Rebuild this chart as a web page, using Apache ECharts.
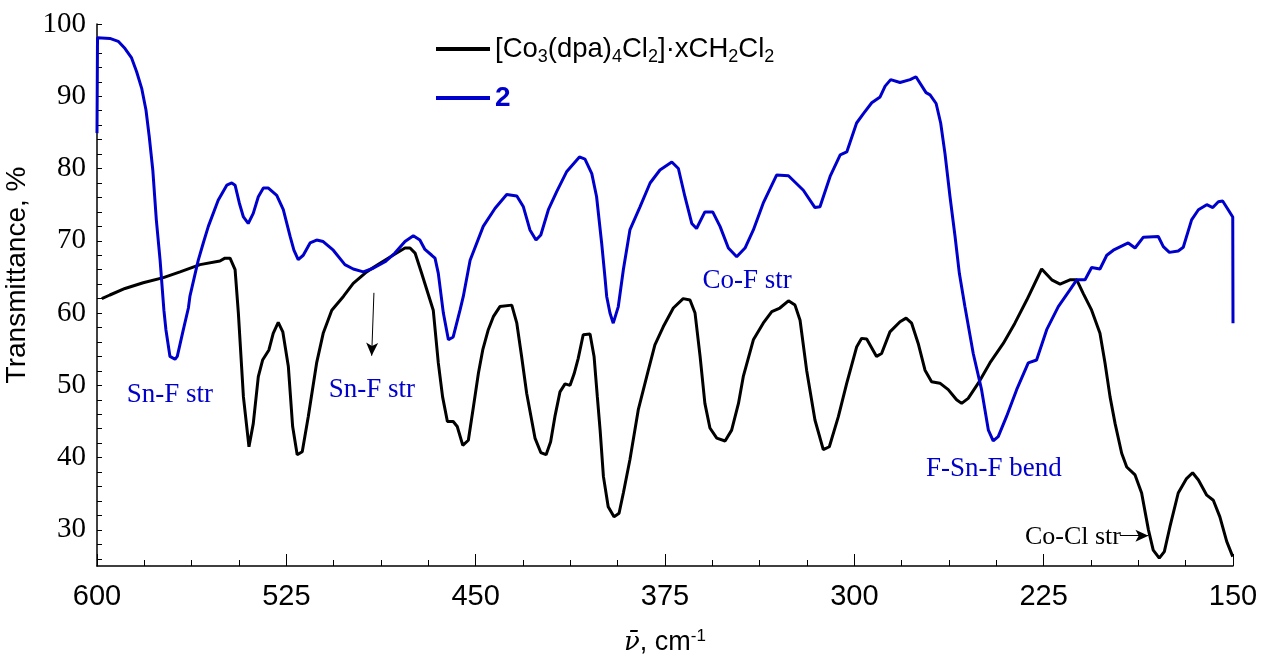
<!DOCTYPE html>
<html>
<head>
<meta charset="utf-8">
<script src="https://cdn.jsdelivr.net/npm/echarts@6/dist/echarts.min.js"></script>
<style>
html,body{margin:0;padding:0;background:#fff;}
#chart{width:1263px;height:661px;}
</style>
</head>
<body>
<div id="chart"></div>
<script>
// ---- data (wavenumber in cm-1, transmittance in %) ----
const blackNu = [598.1,594.9,588.9,581.7,573.7,567.1,559.2,551.3,549.3,547.3,545.3,544.0,542.0,539.8,538.1,536.1,534.4,531.9,530.2,528.2,526.4,524.2,522.5,520.7,518.7,516.3,513.0,510.4,507.0,502.4,498.5,493.2,487.9,481.3,478.0,476.0,474.0,471.4,466.8,464.8,463.1,461.2,458.9,457.3,455.1,452.9,450.9,448.9,447.2,445.0,443.0,440.4,435.7,433.7,431.8,429.8,426.5,424.2,422.1,420.3,418.6,416.6,414.6,412.6,411.0,409.4,407.4,404.7,403.1,401.8,400.7,399.4,397.5,395.2,393.2,391.5,388.9,385.6,381.6,379.0,375.7,371.7,367.8,365.1,363.1,361.1,359.2,357.2,354.5,351.2,348.6,345.9,344.0,340.0,336.1,332.7,329.5,326.1,323.5,321.5,318.9,315.6,312.3,309.9,306.3,303.0,299.1,297.1,295.1,291.2,289.2,285.9,281.9,279.5,277.3,274.7,272.0,269.4,266.1,262.8,259.5,257.5,254.9,250.9,246.3,241.0,236.4,231.7,225.8,221.8,218.5,214.6,211.9,209.3,206.0,202.7,200.7,198.7,196.7,194.1,192.1,188.8,186.2,183.5,181.6,179.2,177.2,175.0,171.7,168.4,166.0,163.7,160.4,157.8,155.2,152.5,150.1];
const blackT = [62.0,62.5,63.4,64.2,64.9,65.7,66.7,67.2,67.6,67.6,66.0,60.0,48.4,41.5,44.7,51.2,53.5,54.9,57.2,58.7,57.4,52.6,44.3,40.4,40.8,45.7,53.1,57.2,60.4,62.3,64.1,65.7,66.9,68.3,69.0,69.0,68.3,65.5,60.4,53.1,48.4,45.0,45.0,44.3,41.7,42.4,47.0,51.7,54.9,57.7,59.5,60.9,61.1,58.6,54.0,48.9,42.7,40.7,40.4,42.2,45.7,49.1,50.2,50.0,51.6,53.7,57.0,57.1,54.0,48.4,43.8,37.4,33.2,31.8,32.3,35.1,39.7,46.6,52.1,55.6,58.1,60.7,62.0,61.8,60.0,54.0,47.5,44.1,42.7,42.3,43.8,47.5,51.2,56.3,58.6,60.2,60.7,61.7,61.1,59.0,52.1,45.2,41.1,41.5,45.7,50.3,55.3,56.5,56.4,54.0,54.4,57.4,58.8,59.3,58.6,55.8,52.1,50.5,50.3,49.4,48.0,47.5,48.2,50.3,53.1,55.8,58.6,61.8,66.1,64.6,64.0,64.6,64.6,62.7,60.4,57.2,53.1,48.4,44.7,40.6,38.7,37.6,35.1,30.0,27.2,26.1,27.0,30.4,35.1,37.1,37.9,36.9,34.8,34.1,31.8,28.4,26.3];

const blueNu = [600.0,599.8,594.9,591.6,588.9,586.3,584.3,582.3,580.6,579.3,577.9,576.5,575.0,573.5,572.7,571.1,569.1,568.2,565.8,563.8,563.2,560.5,559.9,557.9,555.9,552.0,548.6,546.6,545.3,543.6,542.0,540.1,538.1,536.1,534.1,532.1,528.8,526.2,523.5,522.0,520.3,518.3,515.6,513.0,510.4,506.4,501.8,498.5,494.5,490.6,485.9,482.0,478.0,474.7,472.1,470.1,467.4,466.1,464.8,462.8,460.8,458.9,456.2,454.9,452.2,447.0,442.3,437.7,433.7,431.1,428.5,426.1,424.2,421.2,417.9,413.9,408.9,406.7,404.0,402.1,400.1,398.8,398.1,396.8,395.5,393.5,391.5,388.9,384.9,380.9,377.0,372.3,369.7,367.1,364.4,362.5,359.2,356.1,353.2,349.9,346.6,343.3,340.0,336.1,330.8,326.1,320.2,315.6,313.6,309.6,305.6,303.0,299.1,296.4,293.1,289.8,287.8,285.6,281.9,277.9,275.6,271.6,270.0,267.6,265.8,264.1,262.1,260.1,258.4,256.2,252.9,249.6,246.9,245.0,243.0,239.7,235.7,231.1,227.8,223.8,219.2,214.6,211.9,208.6,206.0,202.7,200.0,197.4,191.5,188.8,185.5,179.6,177.6,175.2,171.7,169.7,166.4,163.7,160.4,158.0,155.8,154.1,151.9,150.1,150.0];
const blueT = [84.9,98.1,98.0,97.6,96.6,95.3,93.4,91.1,88.1,84.4,79.8,72.9,67.3,60.4,57.7,54.0,53.6,54.0,57.7,60.7,62.3,66.4,67.3,69.7,72.0,75.6,77.7,78.0,77.7,75.2,73.3,72.4,73.8,76.1,77.3,77.3,76.3,74.3,70.6,68.7,67.4,68.0,69.7,70.1,69.9,68.7,66.7,66.1,65.7,66.2,67.1,68.3,69.9,70.7,70.1,68.8,68.0,67.6,65.5,60.0,56.3,56.7,60.4,62.3,67.3,72.0,74.5,76.4,76.2,74.7,71.5,70.1,70.8,74.3,76.8,79.6,81.6,81.3,79.3,76.1,69.7,65.0,62.3,60.0,58.6,60.9,66.0,71.5,74.7,78.0,79.8,80.9,80.0,76.1,72.4,71.7,74.0,74.0,72.0,69.0,67.8,69.0,71.5,75.2,79.1,79.0,77.0,74.6,74.7,78.9,81.9,82.3,86.3,87.6,89.1,89.9,91.4,92.3,91.9,92.3,92.7,90.5,90.2,89.0,86.3,82.1,76.1,70.6,65.5,60.9,54.4,49.4,43.8,42.3,42.9,45.7,49.4,53.1,53.5,57.7,60.9,63.2,64.6,64.6,66.3,66.1,68.0,68.7,69.7,69.0,70.5,70.6,69.2,68.4,68.6,69.1,72.9,74.3,75.0,74.6,75.4,75.5,74.3,73.3,58.6];

const seriesNames = ['[Co3(dpa)4Cl2]·xCH2Cl2', '2'];
const xTickValues = [150, 225, 300, 375, 450, 525, 600];
const yLabelValues = [30, 40, 50, 60, 70, 80, 90, 100];
const yTickValues = [26,28,30,32,34,36,38,40,42,44,46,48,50,52,54,56,58,60,62,64,66,68,70,72,74,76,78,80,82,84,86,88,90,92,94,96,98,100];

// annotations: [label, wavenumber, transmittance]
const blueNotes = [['Sn-F str', 571.1, 48.7], ['Sn-F str', 491.1, 49.4], ['Co-F str', 342.5, 64.4], ['F-Sn-F bend', 244.7, 38.4]];
const blackNotes = [['Co-Cl str', 213.4, 29.0]];
const arrows = [[[490.3, 62.8], [491.2, 54.1]], [[194.8, 29.2], [183.5, 29.2]]];

const SANS = '"Liberation Sans", Arial, sans-serif';
const SERIF = '"Liberation Serif", "Times New Roman", serif';
const BLUE = '#0000CC';

const zip = (a, b) => a.map((v, i) => [v, b[i]]);

const chart = echarts.init(document.getElementById('chart'), null, {renderer: 'canvas'});
chart.setOption({
  animation: false,
  backgroundColor: '#fff',
  grid: {left: 97, right: 30, top: 24, bottom: 95, containLabel: false, outerBoundsMode: 'none'},
  legend: {
    orient: 'vertical',
    left: 436,
    top: 35,
    padding: 0,
    itemWidth: 54,
    itemHeight: 4,
    itemGap: 18,
    itemTextGap: 5,
    icon: 'rect',
    data: seriesNames,
    formatter: function (name) {
      if (name === seriesNames[1]) return '{b|2}';
      return '{n|[Co}{s|3}{n|(dpa)}{s|4}{n|Cl}{s|2}{n|]·xCH}{s|2}{n|Cl}{s|2}';
    },
    textStyle: {
      color: '#000',
      rich: {
        n: {fontFamily: SANS, fontSize: 27.5, color: '#000', lineHeight: 34},
        s: {fontFamily: SANS, fontSize: 18, color: '#000', lineHeight: 14, verticalAlign: 'bottom'},
        b: {fontFamily: SANS, fontSize: 28, fontWeight: 'bold', color: BLUE, lineHeight: 34}
      }
    }
  },
  xAxis: {
    type: 'value',
    inverse: true,
    min: 150,
    max: 600,
    interval: 75,
    axisLine: {show: true, onZero: false, lineStyle: {color: '#000', width: 1.5}},
    axisTick: {show: true, inside: true, length: 12, lineStyle: {color: '#000', width: 1}},
    minorTick: {show: true, splitNumber: 4, length: 6, lineStyle: {color: '#000', width: 1}},
    splitLine: {show: false},
    axisLabel: {fontFamily: SANS, fontSize: 29, color: '#000', margin: 16},
    name: '{i|ν̄}{n|, cm}{p|-1}',
    nameLocation: 'middle',
    nameGap: 62,
    nameTextStyle: {
      rich: {
        i: {fontFamily: '"DejaVu Serif", serif', fontStyle: 'italic', fontSize: 26, color: '#000', lineHeight: 30},
        n: {fontFamily: SANS, fontSize: 27, color: '#000', lineHeight: 30},
        p: {fontFamily: SANS, fontSize: 17, color: '#000', lineHeight: 30, verticalAlign: 'top'}
      }
    }
  },
  yAxis: {
    type: 'value',
    min: 25,
    max: 100,
    axisLine: {show: true, onZero: false, lineStyle: {color: '#000', width: 1.5}},
    axisTick: {show: true, inside: true, length: 5, customValues: yTickValues, lineStyle: {color: '#000', width: 1}},
    splitLine: {show: false},
    axisLabel: {customValues: yLabelValues, fontFamily: SERIF, fontSize: 29, color: '#000', margin: 11},
    name: 'Transmittance, %',
    nameLocation: 'middle',
    nameGap: 58,
    nameTextStyle: {fontFamily: SANS, fontSize: 28, color: '#000', padding: [0, 0, 0, 40]}
  },
  series: [
    {
      name: seriesNames[0],
      type: 'line',
      data: zip(blackNu, blackT),
      symbol: 'none',
      lineStyle: {color: '#000', width: 3},
      itemStyle: {color: '#000'},
      z: 2,
      markPoint: {
        silent: true,
        symbol: 'circle',
        symbolSize: 0,
        label: {show: true, position: 'inside', formatter: '{b}', fontFamily: SERIF, fontSize: 26, color: '#000'},
        data: blackNotes.map(n => ({name: n[0], coord: [n[1], n[2]]}))
      },
      markLine: {
        silent: true,
        symbol: ['none', 'arrow'],
        symbolSize: [9, 13],
        label: {show: false},
        lineStyle: {color: '#000', width: 1, type: 'solid'},
        data: arrows.map(a => [{coord: a[0]}, {coord: a[1]}])
      }
    },
    {
      name: seriesNames[1],
      type: 'line',
      data: zip(blueNu, blueT),
      symbol: 'none',
      lineStyle: {color: BLUE, width: 3},
      itemStyle: {color: BLUE},
      z: 3,
      markPoint: {
        silent: true,
        symbol: 'circle',
        symbolSize: 0,
        label: {show: true, position: 'inside', formatter: '{b}', fontFamily: SERIF, fontSize: 27, color: BLUE},
        data: blueNotes.map(n => ({name: n[0], coord: [n[1], n[2]]}))
      }
    }
  ]
});
</script>
</body>
</html>
